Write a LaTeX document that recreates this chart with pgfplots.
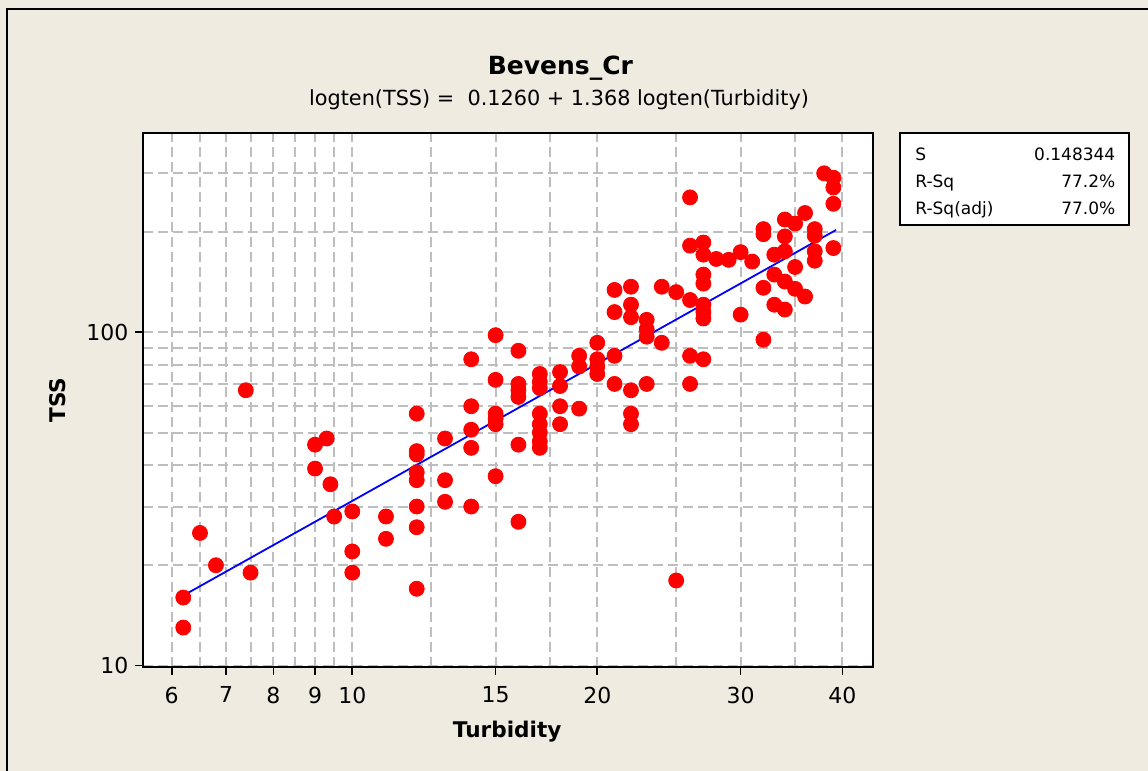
\documentclass[border=0pt]{standalone}
\usepackage{pgfplots}
\pgfplotsset{compat=1.18}
\usepackage{pgfplotstable}
\usepackage{fontspec}
\setmainfont{DejaVu Sans}
\definecolor{bg}{RGB}{239,235,225}
\definecolor{gridgray}{RGB}{190,190,190}
\pgfplotstableread{
x y
6.2 16
6.2 13
6.5 25
6.8 20
7.4 67
7.5 19
9 46
9 39
9.3 48
9.4 35
9.5 28
10 29
10 22
10 19
11 28
11 24
12 57
12 44
12 43
12 38
12 36
12 30
12 26
12 17
13 48
13 36
13 31
14 83
14 60
14 51
14 45
14 30
15 98
15 72
15 57
15 55
15 53
15 37
16 88
16 70
16 67
16 64
16 46
16 27
17 75
17 71
17 68
17 57
17 53
17 50
17 47
17 45
18 76
18 69
18 60
18 53
19 85
19 79
19 59
20 93
20 83
20 79
20 75
21 134
21 115
21 85
21 70
22 137
22 121
22 111
22 67
22 57
22 53
23 109
23 102
23 97
23 70
24 137
24 93
25 132
25 18
26 254
26 182
26 125
26 85
26 70
27 186
27 171
27 149
27 140
27 121
27 115
27 110
27 83
28 166
29 165
30 174
30 113
31 163
32 204
32 197
32 136
32 95
33 171
33 149
33 121
34 218
34 194
34 175
34 142
34 117
35 212
35 157
35 135
36 228
36 128
37 204
37 195
37 175
37 164
38 300
39 291
39 272
39 243
39 179
}\pts
\begin{document}
\begin{tikzpicture}
\clip (0,0) rectangle (574pt,-385.5pt);
\path[use as bounding box] (0,0) rectangle (574pt,-385.5pt);
\fill[bg] (0,0) rectangle (574pt,-385.5pt);
\draw[line width=1pt] (3.35pt,-400pt) -- (3.35pt,-4.65pt) -- (600pt,-4.65pt);
\begin{axis}[
  at={(71.65pt,-333.35pt)}, anchor=south west,
  scale only axis, width=364.7pt, height=266.7pt,
  xmode=log, ymode=log,
  xmin=5.537, xmax=43.59, ymin=9.92, ymax=395.6,
  axis background/.style={fill=white},
  axis line style={line width=1pt},
  xtick={6,7,8,9,10,15,20,30,40},
  xticklabels={6,7,8,9,10,15,20,30,40},
  minor xtick={6.5,7.5,8.5,9.5,12.5,17.5,25,35},
  ytick={10,100}, yticklabels={10,100},
  minor ytick={20,30,40,50,60,70,80,90,200,300},
  grid=both,
  major grid style={gridgray, line width=1pt, dash pattern=on 5pt off 2.5pt},
  minor grid style={gridgray, line width=1pt, dash pattern=on 5pt off 2.5pt},
  tick align=outside, tick pos=left,
  major tick length=4pt, minor tick length=0pt,
  tick style={black, line width=0.8pt},
  tick label style={font=\fontsize{11}{13}\selectfont},
  xticklabel style={yshift=-2.5pt},
]
\addplot[only marks, mark=*, mark size=3.75pt, draw=red, fill=red, mark options={draw=red, fill=red}] table[x=x, y=y] {\pts};
\addplot[blue, line width=0.9pt] coordinates {(6.2,16.22) (15,54.3) (39.3,202.8)};
\end{axis}
\node[anchor=base, font=\bfseries\fontsize{12.5}{15}\selectfont] at (280.25pt,-37.5pt) {Bevens\_Cr};
\node[anchor=base, font=\fontsize{10.4}{12}\selectfont] at (279.5pt,-52.5pt) {logten(TSS) =\ \ 0.1260 + 1.368 logten(Turbidity)};
\node[anchor=base, font=\bfseries\fontsize{10.8}{13}\selectfont] at (253.6pt,-368.6pt) {Turbidity};
\node[rotate=90, anchor=base, font=\bfseries\fontsize{10.8}{13}\selectfont] at (32.5pt,-200pt) {TSS};
\draw[line width=1pt, fill=white] (450pt,-66.65pt) rectangle (564.65pt,-112.5pt);
\begin{scope}[every node/.style={inner sep=0pt, font=\fontsize{8.5}{10}\selectfont}]
\node[anchor=base west] at (457.5pt,-80.35pt) {S};
\node[anchor=base east] at (557.85pt,-80.35pt) {0.148344};
\node[anchor=base west] at (457.5pt,-93.75pt) {R-Sq};
\node[anchor=base east] at (557.85pt,-93.75pt) {77.2\%};
\node[anchor=base west] at (457.5pt,-107.15pt) {R-Sq(adj)};
\node[anchor=base east] at (557.85pt,-107.15pt) {77.0\%};
\end{scope}
\end{tikzpicture}
\end{document}
